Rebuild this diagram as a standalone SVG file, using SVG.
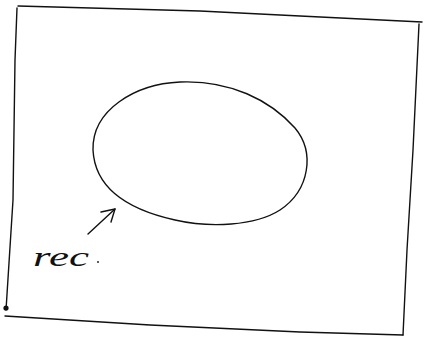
<svg xmlns="http://www.w3.org/2000/svg" width="425" height="337" viewBox="0 0 425 337">
<style>
.ink{fill:none;stroke:#111;stroke-width:1.4;stroke-linecap:round;stroke-linejoin:round}
.lbl{font-family:"Liberation Serif",serif;font-style:italic;font-size:27px;fill:#111}
</style>
<rect width="425" height="337" fill="#fff"/>
<g id="frame">
<path class="ink" d="M18,6 L200,11 L300,16 L422,22"/>
<path class="ink" d="M419,24 L413,150 L407,250 L403,335"/>
<path class="ink" d="M5,316 L150,325 L300,332 L403,335"/>
<path class="ink" d="M17,8 L15,60 L13,200 L6,310"/>
<circle cx="6" cy="308" r="2.6" fill="#111"/>
</g>
<g id="ellipse">
<path class="ink" d="M180,82 C230,80 270,100 295,128 C315,152 310,190 280,210 C255,226 210,228 175,220 C130,210 95,190 93,150 C92,110 135,84 180,82 Z"/>
</g>
<g id="connectors">
<path class="ink" d="M88,234 L115,209"/>
<path class="ink" d="M101,212 L115,209 L111,222"/>
</g>
<g id="label">
<text class="lbl" x="33" y="266" textLength="56" lengthAdjust="spacingAndGlyphs">rec</text>
<circle cx="98" cy="262" r="0.9" fill="#111"/>
</g>
</svg>
